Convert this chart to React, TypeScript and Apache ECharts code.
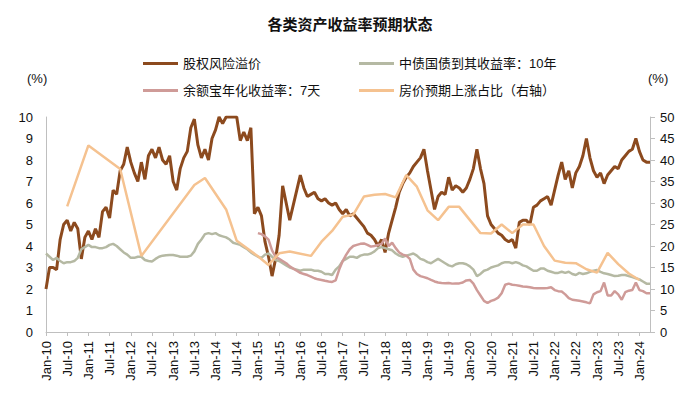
import React, { useEffect, useRef } from "react";
import * as echarts from "echarts";

const MONTH_NAMES = ["Jan", "Feb", "Mar", "Apr", "May", "Jun", "Jul", "Aug", "Sep", "Oct", "Nov", "Dec"];
const START_YEAR = 2010;
const MONTH_COUNT = 172; // Jan-10 .. Apr-24
const categories: string[] = Array.from({ length: MONTH_COUNT }, (_, i) => {
  const yy = (START_YEAR + Math.floor(i / 12)) % 100;
  return `${MONTH_NAMES[i % 12]}-${String(yy).padStart(2, "0")}`;
});

const SERIES_NAMES = ["股权风险溢价", "中债国债到其收益率：10年", "余额宝年化收益率：7天", "房价预期上涨占比（右轴）"];

// 股权风险溢价 (%), monthly from Jan-10
const erp: number[] = [
  2.0, 3.0, 3.0, 2.9, 4.3, 5.0, 5.2, 4.7, 5.1, 4.8, 3.4, 4.4,
  4.7, 4.3, 4.8, 4.4, 5.6, 5.8, 5.3, 6.6, 6.4, 7.5, 7.8, 8.6,
  7.9, 7.4, 7.0, 7.9, 7.1, 8.2, 8.5, 8.1, 8.6, 8.0, 7.8, 8.2,
  7.0, 6.6, 7.6, 8.1, 8.4, 9.5, 9.9, 8.7, 8.1, 8.5, 8.0, 9.0,
  9.4, 10, 9.7, 10, 10, 10, 10, 8.9, 9.3, 8.9, 9.5, 5.5,
  5.8, 5.4, 4.2, 3.5, 2.6, 3.4, 4.5, 6.8, 6.0, 5.2, 5.9, 6.6,
  7.3, 6.7, 6.3, 6.4, 6.5, 6.2, 6.1, 6.2, 6.0, 5.9, 6.0, 5.7,
  5.5, 5.7, 5.4, 5.5, 5.3, 5.1, 4.9, 4.6, 4.5, 4.3, 4.0, 4.3,
  3.7, 4.6, 5.2, 5.8, 6.5, 6.9, 7.2, 7.4, 7.7, 7.9, 8.1, 8.5,
  7.5, 6.6, 5.7, 6.3, 6.5, 6.4, 7.2, 6.6, 6.8, 6.7, 6.5, 6.7,
  7.1, 7.6, 8.5, 7.6, 6.9, 5.4, 5.0, 4.8, 4.6, 4.5, 4.3, 4.2,
  4.3, 3.9, 5.1, 5.2, 5.2, 5.0, 5.8, 5.9, 6.1, 6.2, 6.3, 5.9,
  6.6, 7.3, 7.9, 7.1, 7.5, 6.7, 7.4, 7.7, 8.2, 9.0, 8.1, 7.5,
  7.2, 7.4, 6.9, 7.3, 7.5, 7.7, 7.6, 8.0, 8.2, 8.4, 8.5, 9.0,
  8.4, 8.0, 7.9, 7.9,
];

// 中债国债到期收益率：10年 (%), monthly from Jan-10
const bond10y: number[] = [
  3.65, 3.5, 3.35, 3.45, 3.3, 3.2, 3.25, 3.25, 3.3, 3.45, 3.85, 3.95,
  4.05, 3.95, 3.95, 3.9, 3.9, 3.95, 4.05, 4.1, 4.0, 3.85, 3.7, 3.6,
  3.45, 3.45, 3.5, 3.5, 3.35, 3.3, 3.28, 3.4, 3.5, 3.55, 3.57, 3.58,
  3.58, 3.55, 3.5, 3.5, 3.5, 3.55, 3.75, 4.1, 4.3, 4.55, 4.6, 4.55,
  4.6, 4.5, 4.45, 4.4, 4.3, 4.15, 4.1, 4.05, 3.95, 3.85, 3.7, 3.6,
  3.5, 3.45, 3.6, 3.65, 3.5, 3.35, 3.3, 3.2, 3.1, 3.0, 2.95, 2.9,
  2.85, 2.9, 2.9, 2.9, 2.85, 2.85, 2.8, 2.7, 2.7, 2.65, 2.9, 3.05,
  3.3, 3.4, 3.5, 3.5, 3.45, 3.55, 3.6, 3.6, 3.65, 3.75, 3.9, 3.95,
  3.9, 3.85, 3.8, 3.65, 3.55, 3.5, 3.55, 3.6, 3.65, 3.55, 3.4, 3.35,
  3.25, 3.2, 3.3, 3.4, 3.3, 3.2, 3.1, 3.05, 3.15, 3.2, 3.2, 3.15,
  3.05, 2.9, 2.6, 2.7, 2.85, 2.9, 3.0, 3.05, 3.1, 3.2, 3.25, 3.25,
  3.2, 3.25, 3.2, 3.1, 3.05, 2.95, 2.85, 2.85, 2.95, 2.95, 2.85, 2.8,
  2.75, 2.75, 2.8, 2.75, 2.8, 2.7, 2.65, 2.75, 2.7, 2.73, 2.8, 2.85,
  2.88, 2.8, 2.73, 2.7, 2.65, 2.6, 2.62, 2.65, 2.65, 2.6, 2.55, 2.5,
  2.45, 2.35, 2.25, 2.25,
];

// 余额宝年化收益率：7天 (%), monthly from Jan-15
const yuebaoStart = "Jan-15";
const yuebao: number[] = [
  4.6, 4.55, 4.45, 4.3, 3.8, 3.5, 3.4, 3.3, 3.2, 3.05, 2.95, 2.85,
  2.75, 2.7, 2.65, 2.58, 2.5, 2.45, 2.42, 2.38, 2.35, 2.33, 2.4, 2.9,
  3.3, 3.6, 3.85, 4.0, 4.05, 4.1, 4.12, 4.05, 3.97, 4.0, 4.05, 4.1,
  4.35, 4.0, 4.15, 3.9, 3.7, 3.6, 3.55, 3.4, 2.9, 2.7, 2.6, 2.55,
  2.5, 2.42, 2.35, 2.3, 2.28, 2.27, 2.28, 2.25, 2.26, 2.26, 2.3, 2.4,
  2.42, 2.25, 1.95, 1.7, 1.45, 1.35, 1.45, 1.5, 1.6, 1.8, 2.2, 2.25,
  2.2, 2.18, 2.15, 2.12, 2.1, 2.08, 2.05, 2.03, 2.03, 2.03, 2.05, 2.08,
  1.95, 1.9, 1.88, 1.75, 1.58, 1.5, 1.48, 1.45, 1.42, 1.38, 1.33, 1.75,
  1.85, 1.9, 2.3, 1.7, 1.7, 1.9, 1.75, 1.5, 1.85, 1.92, 1.95, 2.3,
  1.95, 1.9, 1.8, 1.8,
];

// 房价预期上涨占比 (%, right axis), survey dates
const houseDates: string[] = [
  "Jul-10", "Jan-11", "Oct-11", "Apr-12", "Jul-13", "Oct-13", "Apr-14", "Jul-14",
  "Jan-15", "Apr-15", "Jul-15", "Oct-15", "Apr-16", "Jul-16", "Oct-16", "Jan-17",
  "Apr-17", "Jul-17", "Oct-17", "Jan-18", "Apr-18", "Jul-18", "Oct-18", "Jan-19",
  "Apr-19", "Jul-19", "Oct-19", "Apr-20", "Jul-20", "Oct-20", "Jan-21", "Apr-21",
  "Jul-21", "Oct-21", "Jan-22", "Apr-22", "Jul-22", "Oct-22", "Jan-23", "Apr-23",
  "Jul-23", "Oct-23", "Jan-24",
];
const houseValues: number[] = [
  29.2, 43.4, 37.9, 17.7, 34.2, 35.8, 28.5, 21.2,
  17.6, 15.6, 18.3, 18.7, 17.7, 21.0, 23.5, 26.8,
  27.3, 31.5, 31.9, 32.1, 31.3, 36.5, 33.8, 28.3,
  26.0, 29.1, 29.1, 23.0, 22.9, 25.0, 23.0, 25.0,
  25.0, 20.0, 16.6, 16.1, 16.0, 14.6, 13.8, 18.4,
  15.8, 13.6, 12.1,
];

const leftTicks = { min: 0, max: 10, interval: 1 };
const rightTicks = { min: 0, max: 50, interval: 5 };

const COLORS = ["#8C4A1E", "#B5B9A3", "#CF9B98", "#F5C290"];
const FONT = "'Liberation Sans', 'Noto Sans CJK SC', sans-serif";

export default function App() {
  const ref = useRef<HTMLDivElement>(null);

  useEffect(() => {
    document.body.style.margin = "0";
    if (!ref.current) return;
    const chart = echarts.init(ref.current, undefined, { renderer: "svg" });

    const yStart = categories.indexOf(yuebaoStart);
    const yuebaoData = categories.map((_, i) => (i < yStart ? null : yuebao[i - yStart] ?? null));
    const houseData = houseDates.map((d, i) => [d, houseValues[i]]);
    const showEvery6 = (i: number) => i % 6 === 0;

    const legendPos = [
      { left: 138, top: 52 },
      { left: 354, top: 52 },
      { left: 138, top: 79 },
      { left: 354, top: 79 },
    ];

    chart.setOption({
      animation: false,
      textStyle: { fontFamily: FONT },
      title: {
        text: "各类资产收益率预期状态",
        left: "center",
        top: 12,
        textStyle: { fontSize: 15, fontWeight: "bold", color: "#111", fontFamily: FONT },
      },
      legend: SERIES_NAMES.map((n, i) => ({
        data: [n],
        left: legendPos[i].left,
        top: legendPos[i].top,
        icon: "rect",
        itemWidth: 35,
        itemHeight: 3,
        textStyle: { fontSize: 13, color: "#111", fontFamily: FONT },
      })),
      graphic: [
        { type: "text", left: 27, top: 72, style: { text: "(%)", fontSize: 13, fill: "#111", fontFamily: FONT } },
        { type: "text", left: 648, top: 72, style: { text: "(%)", fontSize: 13, fill: "#111", fontFamily: FONT } },
      ],
      grid: { left: 46, right: 50, top: 117, bottom: 62, containLabel: false },
      xAxis: {
        type: "category",
        data: categories,
        boundaryGap: false,
        axisLine: { lineStyle: { color: "#BFBFBF" } },
        axisTick: { interval: showEvery6, length: 4, lineStyle: { color: "#BFBFBF" } },
        axisLabel: { interval: showEvery6, rotate: 90, margin: 9, fontSize: 13, color: "#111", fontFamily: FONT },
        splitLine: { show: false },
      },
      yAxis: [
        {
          type: "value",
          ...leftTicks,
          position: "left",
          axisLine: { show: true, lineStyle: { color: "#BFBFBF" } },
          axisTick: { show: false },
          axisLabel: { margin: 13, fontSize: 13, color: "#111", fontFamily: FONT },
          splitLine: { show: false },
        },
        {
          type: "value",
          ...rightTicks,
          position: "right",
          axisLine: { show: true, lineStyle: { color: "#BFBFBF" } },
          axisTick: { show: true, length: 5, lineStyle: { color: "#BFBFBF" } },
          axisLabel: { margin: 10, fontSize: 13, color: "#111", fontFamily: FONT },
          splitLine: { show: false },
        },
      ],
      series: [
        {
          name: SERIES_NAMES[0], type: "line", data: erp, showSymbol: false, yAxisIndex: 0,
          itemStyle: { color: COLORS[0] }, lineStyle: { color: COLORS[0], width: 3 },
        },
        {
          name: SERIES_NAMES[1], type: "line", data: bond10y, showSymbol: false, yAxisIndex: 0,
          itemStyle: { color: COLORS[1] }, lineStyle: { color: COLORS[1], width: 2.5 },
        },
        {
          name: SERIES_NAMES[2], type: "line", data: yuebaoData, showSymbol: false, yAxisIndex: 0,
          itemStyle: { color: COLORS[2] }, lineStyle: { color: COLORS[2], width: 2.5 },
        },
        {
          name: SERIES_NAMES[3], type: "line", data: houseData, showSymbol: false, yAxisIndex: 1,
          itemStyle: { color: COLORS[3] }, lineStyle: { color: COLORS[3], width: 2.5 },
        },
      ],
    });

    return () => chart.dispose();
  }, []);

  return <div ref={ref} style={{ width: 700, height: 394 }} />;
}
